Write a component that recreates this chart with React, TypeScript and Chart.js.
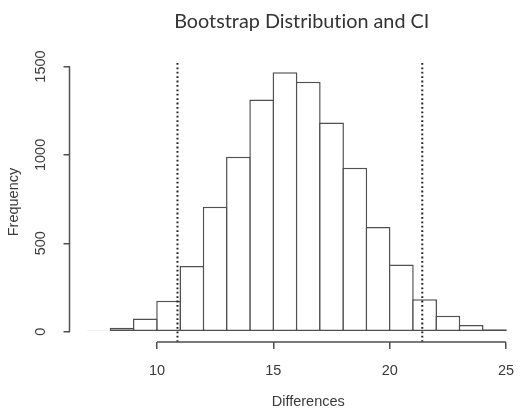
import { useEffect, useRef } from 'react';
import { Chart, registerables } from 'chart.js';

Chart.register(...registerables);

// ---- data ----
const binStarts = [7, 8, 9, 10, 11, 12, 13, 14, 15, 16, 17, 18, 19, 20, 21, 22, 23, 24, 25];
const binWidth = 1;
const counts = [5, 22, 74, 175, 372, 707, 990, 1314, 1467, 1414, 1184, 928, 592, 380, 183, 90, 38, 14, 3];
const ciBounds = [10.88, 21.4];
const xTicks = [10, 15, 20, 25];
const yTicks = [0, 500, 1000, 1500];
const titleText = 'Bootstrap Distribution and CI';
const xLabel = 'Differences';
const yLabel = 'Frequency';

// R-style 4% axis extension
const xLo = binStarts[0];
const xHi = binStarts[binStarts.length - 1] + binWidth;
const xMin = xLo - 0.04 * (xHi - xLo);
const xMax = xHi + 0.04 * (xHi - xLo);
const cMax = Math.max(...counts);
const yMin = -0.04 * cMax;
const yMax = cMax * 1.04;

const LINE = '#505050';
const TEXT = '#3a3a3a';
const FONT = { family: '"Liberation Sans", Arial, Helvetica, sans-serif', size: 14.5 };

const rAxesPlugin = {
  id: 'rAxes',
  afterDraw(chart: any) {
    const { ctx, chartArea, scales } = chart;
    const x = scales.x;
    const y = scales.y;
    ctx.save();
    ctx.strokeStyle = LINE;
    ctx.lineWidth = 1.5;
    ctx.beginPath();
    ctx.moveTo(x.getPixelForValue(xTicks[0]), chartArea.bottom);
    ctx.lineTo(x.getPixelForValue(xTicks[xTicks.length - 1]), chartArea.bottom);
    ctx.moveTo(chartArea.left, y.getPixelForValue(yTicks[0]));
    ctx.lineTo(chartArea.left, y.getPixelForValue(yTicks[yTicks.length - 1]));
    ctx.stroke();
    ctx.font = '19.8px Lato, "Open Sans", sans-serif';
    try {
      (ctx as any).textRendering = 'optimizeSpeed';
      (ctx as any).letterSpacing = '0.01px';
    } catch (e) {}
    ctx.fillStyle = '#333';
    ctx.textAlign = 'center';
    ctx.textBaseline = 'alphabetic';
    ctx.fillText(titleText, (chartArea.left + chartArea.right) / 2 - 6.5, 27.7);
    ctx.restore();
  },
};

export default function App() {
  const ref = useRef<HTMLCanvasElement | null>(null);

  useEffect(() => {
    if (!ref.current) return;
    const chart = new Chart(ref.current, {
      type: 'bar',
      data: {
        datasets: [
          {
            type: 'bar',
            data: binStarts.map((s, i) => ({ x: s + binWidth / 2, y: counts[i] })),
            backgroundColor: '#ffffff',
            borderColor: LINE,
            borderWidth: 1.5,
            borderSkipped: false,
            barPercentage: 1.065,
            categoryPercentage: 1,
            order: 2,
          } as any,
          ...ciBounds.map((c) => ({
            type: 'line',
            data: [
              { x: c, y: yMin },
              { x: c, y: yMax },
            ],
            borderColor: '#222',
            borderWidth: 2,
            borderDash: [1.8, 2.6],
            pointRadius: 0,
            fill: false,
            order: 1,
          })) as any,
        ],
      },
      options: {
        animation: false,
        responsive: false,
        layout: { padding: { left: 0, right: 13, top: 62, bottom: 0 } },
        plugins: {
          legend: { display: false },
          tooltip: { enabled: false },
          title: { display: false },
        },
        scales: {
          x: {
            type: 'linear',
            offset: false,
            min: xMin,
            max: xMax,
            afterBuildTicks: (s: any) => {
              s.ticks = xTicks.map((v) => ({ value: v }));
            },
            afterFit: (s: any) => {
              s.height = 66;
            },
            grid: { offset: false, drawOnChartArea: false, drawTicks: true, tickLength: 7, color: LINE, lineWidth: 1.5 },
            border: { display: false },
            ticks: {
              padding: 13,
              font: FONT,
              color: TEXT,
              maxRotation: 0,
              autoSkip: false,
              callback: (v: any) => String(v),
            },
            title: { display: true, text: xLabel, font: FONT, color: TEXT, padding: { top: 0, bottom: -3 } },
          },
          y: {
            type: 'linear',
            offset: false,
            min: yMin,
            max: yMax,
            afterBuildTicks: (s: any) => {
              s.ticks = yTicks.map((v) => ({ value: v }));
            },
            afterFit: (s: any) => {
              s.width = 69.5;
            },
            grid: { offset: false, drawOnChartArea: false, drawTicks: true, tickLength: 6, color: LINE, lineWidth: 1.5 },
            border: { display: false },
            ticks: {
              padding: 6.4,
              font: FONT,
              color: TEXT,
              minRotation: 90,
              maxRotation: 90,
              crossAlign: 'center',
              autoSkip: false,
              callback: (v: any) => String(v),
            },
            title: { display: true, text: yLabel, font: FONT, color: TEXT, padding: { top: 5, bottom: 0 } },
          },
        },
      } as any,
      plugins: [rAxesPlugin],
    });
    return () => chart.destroy();
  }, []);

  return (
    <div
      style={{
        position: 'fixed',
        left: 0,
        top: 0,
        width: 528,
        height: 408,
        overflow: 'hidden',
        background: '#fff',
      }}
    >
      <canvas ref={ref} width={560} height={408} style={{ display: 'block' }} />
    </div>
  );
}
